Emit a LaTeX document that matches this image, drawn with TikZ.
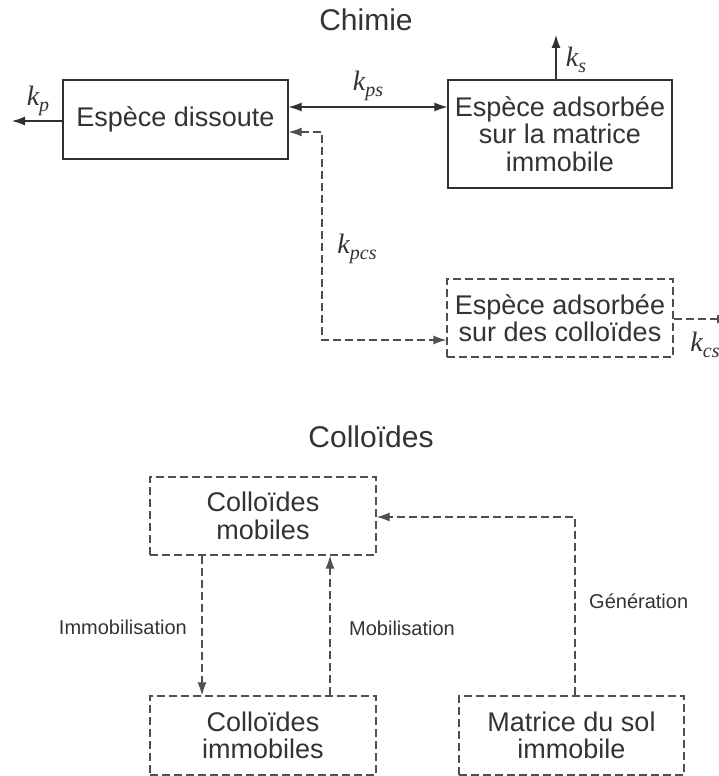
\documentclass[tikz,border=0pt]{standalone}
\usepackage{fontspec}
\setmainfont{Liberation Sans}
\newfontfamily\serifk{Liberation Serif}
\usetikzlibrary{arrows.meta}
\definecolor{textc}{HTML}{333333}
\definecolor{linec}{HTML}{303030}
\definecolor{dashc}{HTML}{505050}
\newcommand{\kk}[1]{{\fontsize{28}{28}\serifk\itshape k\raisebox{-0.22em}{\fontsize{20}{20}\selectfont #1}}}
\tikzset{
  tipm/.tip={Latex[length=13pt,width=9pt]},
  boxs/.style={draw=linec, line width=1.2pt, inner sep=0pt, align=center, text=textc,
    font=\fontsize{27}{27.5}\selectfont},
  dboxs/.style={boxs, draw=dashc, dash pattern=on 8pt off 4pt},
  arr/.style={draw=linec, line width=1.2pt, -tipm},
  arrb/.style={draw=linec, line width=1.2pt, tipm-tipm},
  darr/.style={draw=dashc, line width=1.2pt, dash pattern=on 8pt off 4pt, -tipm},
  darrb/.style={draw=dashc, line width=1.2pt, dash pattern=on 8pt off 4pt, tipm-tipm},
  titles/.style={text=textc, font=\fontsize{30}{30}\selectfont, inner sep=0pt},
  labs/.style={text=textc, font=\fontsize{20}{20}\selectfont, inner sep=0pt},
  klab/.style={text=textc, inner sep=0pt}
}
\begin{document}
\begin{tikzpicture}[x=1pt,y=-1pt]
\useasboundingbox (0,0) rectangle (719,776);
% titles
\node[titles] (t1) at (366,20) {Chimie};
\node[titles] (t2) at (371,437) {Colloïdes};
% chemistry boxes
\node[boxs, minimum width=225pt, minimum height=79pt] (dis) at (175.5,119.5) {Espèce dissoute};
\node[boxs, minimum width=224pt, minimum height=108pt] (mat) at (560,134) {Espèce adsorbée\\sur la matrice\\immobile};
\node[dboxs, minimum width=226pt, minimum height=78pt] (col) at (560,318) {Espèce adsorbée\\sur des colloïdes};
% colloid boxes
\node[dboxs, minimum width=226pt, minimum height=78pt] (mob) at (263,516) {Colloïdes\\mobiles};
\node[dboxs, minimum width=226pt, minimum height=79pt] (imm) at (263,735.5) {Colloïdes\\immobiles};
\node[dboxs, minimum width=225pt, minimum height=79pt] (msol) at (571.5,735.5) {Matrice du sol\\immobile};
% helper coordinates
\coordinate (kpend) at (12,121);
\coordinate (kpsy) at (0,107);
\coordinate (ksx) at (556,0);
\coordinate (ksend) at (556,35);
\coordinate (kpcsy) at (0,132);
\coordinate (corner) at (322,340);
\coordinate (kcsend) at (730,319);
\coordinate (immx) at (202,0);
\coordinate (mobx) at (330,0);
\coordinate (gencorner) at (575,517);
% chemistry connectors
\draw[arr] (dis.west |- kpend) -- (kpend);
\node[klab] (kp) at (38,101) {\kk{p}};
\draw[arrb] (dis.east |- kpsy) -- (mat.west |- kpsy);
\node[klab] (kps) at (368,86) {\kk{ps}};
\draw[arr] (mat.north -| ksx) -- (ksend);
\node[klab] (ks) at (576,60) {\kk{s}};
\draw[darrb] (dis.east |- kpcsy) -- (corner |- kpcsy) -- (corner) -- (col.west |- corner);
\node[klab] (kpcs) at (357,249) {\kk{pcs}};
\draw[darr] (col.east |- kcsend) -- (kcsend);
\node[klab] (kcs) at (705,345) {\kk{cs}};
% colloid connectors
\draw[darr] (mob.south -| immx) -- (imm.north -| immx);
\node[labs, anchor=east] (limm) at (187,627) {Immobilisation};
\draw[darr] (imm.north -| mobx) -- (mob.south -| mobx);
\node[labs, anchor=west] (lmob) at (349,628) {Mobilisation};
\draw[darr] (msol.north -| gencorner) -- (gencorner) -- (mob.east |- gencorner);
\node[labs, anchor=west] (lgen) at (589,601) {Génération};
\end{tikzpicture}
\end{document}
